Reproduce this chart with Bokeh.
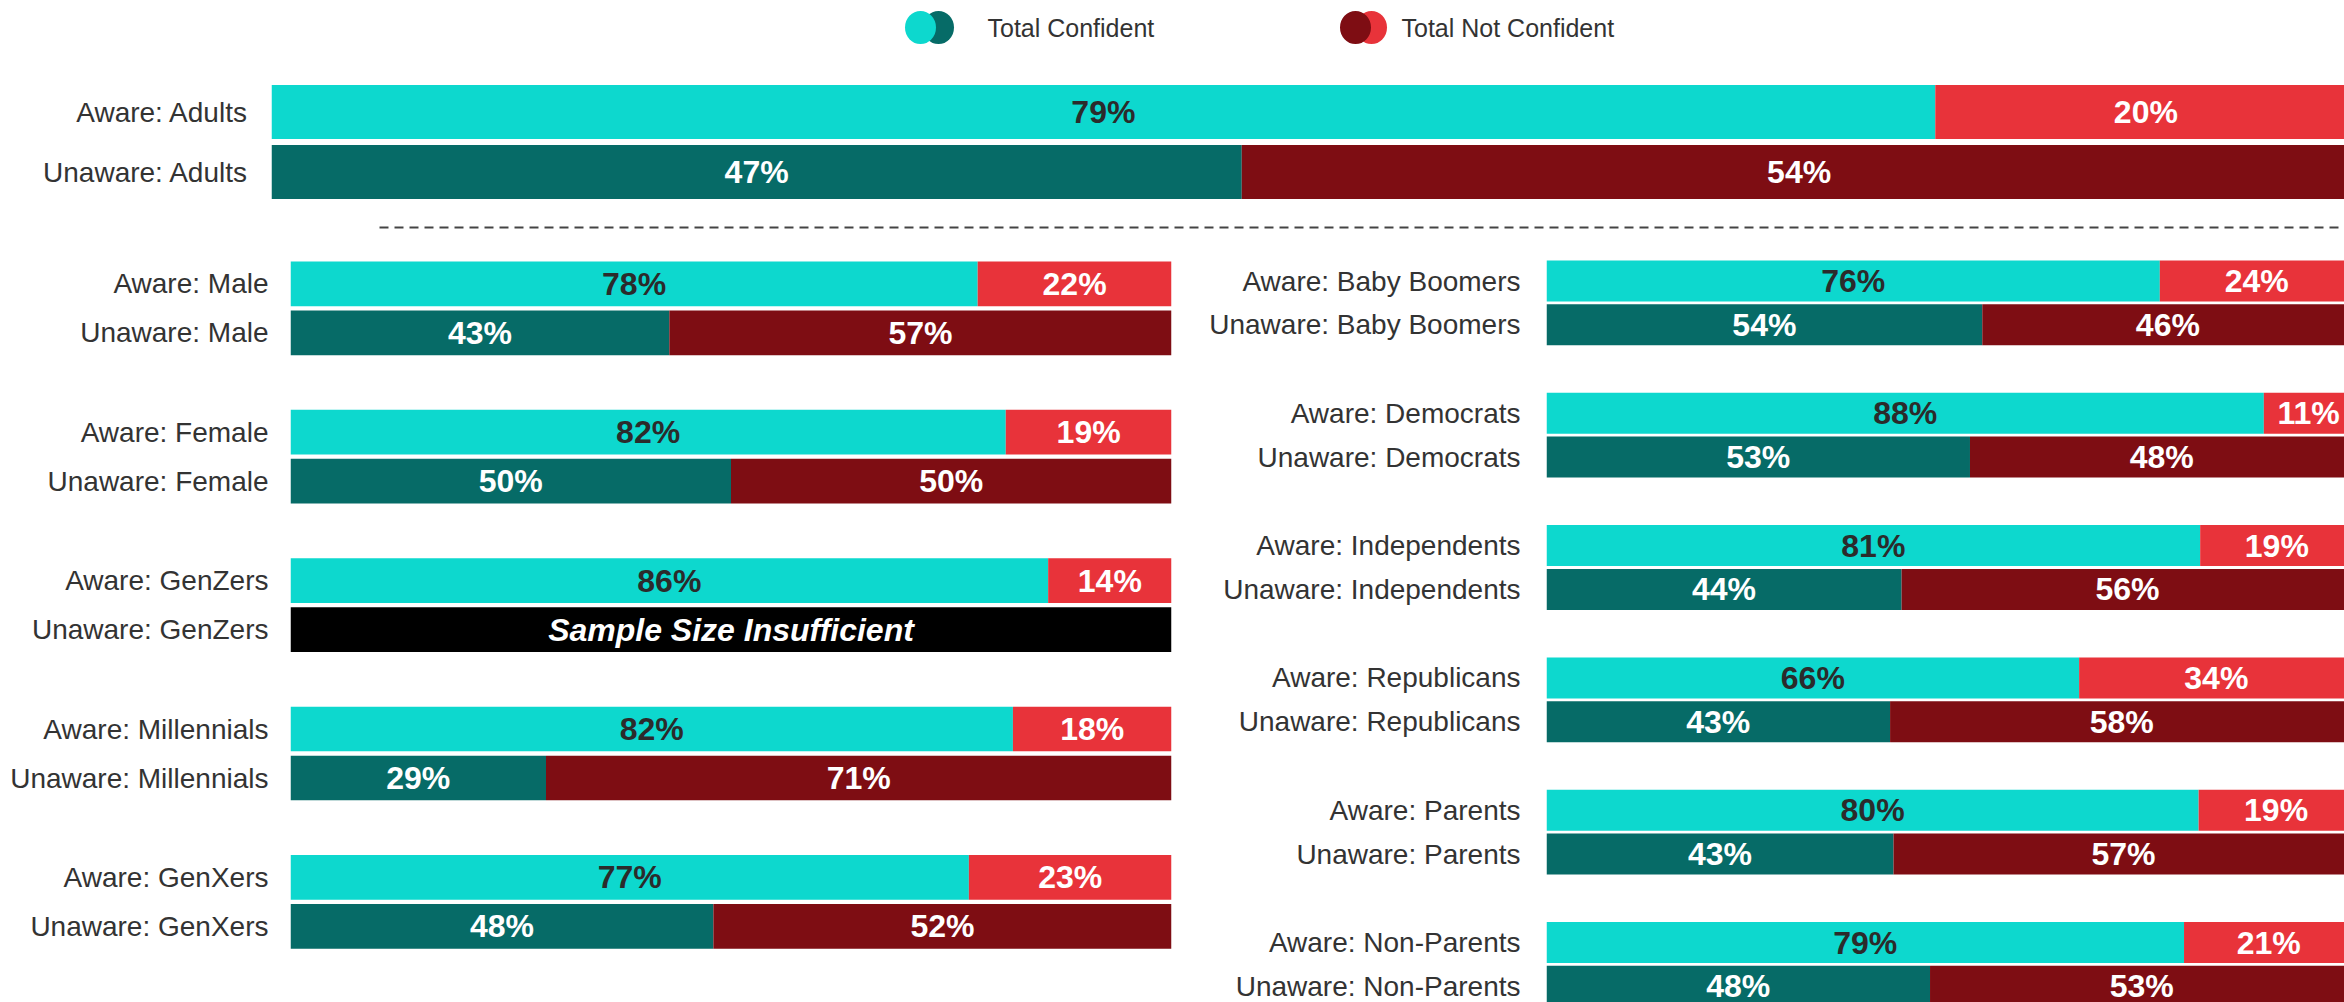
from bokeh.plotting import figure
from bokeh.models import Range1d, FixedTicker
from bokeh.layouts import column, row
from bokeh.embed import file_html
from bokeh.resources import INLINE
from bokeh.core.properties import value

# ---------------- data ----------------
top_groups = ["Adults"]
top_aware_conf = [79]
top_aware_not = [20]
top_unaware_conf = [47]
top_unaware_not = [54]

left_groups = ["Male", "Female", "GenZers", "Millennials", "GenXers"]
left_aware_conf = [78, 82, 86, 82, 77]
left_aware_not = [22, 19, 14, 18, 23]
left_unaware_conf = [43, 50, None, 29, 48]
left_unaware_not = [57, 50, None, 71, 52]

right_groups = ["Baby Boomers", "Democrats", "Independents", "Republicans", "Parents", "Non-Parents"]
right_aware_conf = [76, 88, 81, 66, 80, 79]
right_aware_not = [24, 11, 19, 34, 19, 21]
right_unaware_conf = [54, 53, 44, 43, 43, 48]
right_unaware_not = [46, 48, 56, 58, 57, 53]

legend_labels = ["Total Confident", "Total Not Confident"]
missing_text = "Sample Size Insufficient"

# ---------------- style ----------------
LIGHT_TEAL = "#0DD8CE"
DARK_TEAL = "#066B67"
RED = "#E8333A"
DARK_RED = "#7E0D13"
DARK_TXT = "#2B2B2B"
LABEL_COL = "#333333"
FONT = "Liberation Sans"
LABEL_SIZE = "28px"
PCT_SIZE = "32px"


def build_panel(groups, ac, an, uc, un, width, height, border_left, border_right,
                full_px, first_center, row_pitch, group_pitch, bar_h, standoff):
    frame_w = width - border_left - border_right
    p = figure(width=width, height=height, output_backend="svg", toolbar_location=None,
               x_range=Range1d(0, frame_w / full_px), y_range=Range1d(height, 0),
               x_axis_location=None, min_border_left=border_left,
               min_border_right=border_right, min_border_top=0, min_border_bottom=0,
               outline_line_color=None, background_fill_color="white", border_fill_color="white")
    p.xgrid.visible = False
    p.ygrid.visible = False

    ticks, tick_labels = [], {}
    bl, br, bc, by = [], [], [], []
    tx, ty, tt, tc = [], [], [], []
    mx, my = [], []
    for g, name in enumerate(groups):
        for k, (prefix, c, n, ccol, ncol, ctxt) in enumerate([
                ("Aware", ac[g], an[g], LIGHT_TEAL, RED, DARK_TXT),
                ("Unaware", uc[g], un[g], DARK_TEAL, DARK_RED, "white")]):
            y = round(first_center + g * group_pitch + k * row_pitch, 2)
            ticks.append(y)
            tick_labels[y] = f"{prefix}: {name}"
            if c is None:
                bl.append(0); br.append(1); bc.append("black"); by.append(y)
                mx.append(0.5); my.append(y)
                continue
            tot = c + n
            fc = c / tot
            bl += [0, fc]; br += [fc, 1]; bc += [ccol, ncol]; by += [y, y]
            tx += [fc / 2, (fc + 1) / 2]; ty += [y, y]
            tt += [f"{c}%", f"{n}%"]; tc += [ctxt, "white"]

    p.hbar(y=by, left=bl, right=br, height=bar_h, fill_color=bc, line_color=None)
    p.text(x=tx, y=ty, text=tt, text_color=tc, text_align="center", text_baseline="middle",
           text_font=value(FONT), text_font_style="bold", text_font_size=PCT_SIZE)
    if mx:
        p.text(x=mx, y=my, text=[missing_text] * len(mx), text_color="white",
               text_align="center", text_baseline="middle", text_font=value(FONT),
               text_font_style="bold italic", text_font_size=PCT_SIZE)

    ax = p.yaxis[0]
    ax.ticker = FixedTicker(ticks=ticks)
    ax.major_label_overrides = tick_labels
    ax.axis_line_color = None
    ax.major_tick_line_color = None
    ax.minor_tick_line_color = None
    ax.major_tick_out = 0
    ax.major_tick_in = 0
    ax.major_label_standoff = standoff
    ax.major_label_text_font = FONT
    ax.major_label_text_font_size = LABEL_SIZE
    ax.major_label_text_color = LABEL_COL
    return p


TOTAL_W = 2344
TOP_H = 248
PANEL_H = 754
LEFT_W = 1190

# top panel (with legend + dashed separator)
p_top = build_panel(top_groups, top_aware_conf, top_aware_not, top_unaware_conf, top_unaware_not,
                    TOTAL_W, TOP_H, 271, 0, 2085, 111.5, 60, 0, 54, 23)
p_top.extra_x_ranges = {"px": Range1d(271, TOTAL_W)}
# legend
p_top.ellipse(x=[938, 920], y=[27, 27], width=31, height=33, width_units="screen",
              height_units="screen", fill_color=[DARK_TEAL, LIGHT_TEAL], line_color=None,
              x_range_name="px")
p_top.ellipse(x=[1371, 1355], y=[27, 27], width=31, height=33, width_units="screen",
              height_units="screen", fill_color=[RED, DARK_RED], line_color=None,
              x_range_name="px")
p_top.text(x=[987, 1401], y=[27, 27], text=legend_labels, text_color=LABEL_COL,
           text_align="left", text_baseline="middle", text_font=value(FONT),
           text_font_size="25px", x_range_name="px")
p_top.segment(x0=[379], x1=[TOTAL_W], y0=[227], y1=[227], line_color="#444444",
              line_width=2, line_dash="9 6", x_range_name="px")

p_left = build_panel(left_groups, left_aware_conf, left_aware_not, left_unaware_conf,
                     left_unaware_not, LEFT_W, PANEL_H, 290, 19, 881, 35.3, 49, 148.4, 44.7, 22)
p_right = build_panel(right_groups, right_aware_conf, right_aware_not, right_unaware_conf,
                      right_unaware_not, TOTAL_W - LEFT_W, PANEL_H, 356, 0, 807,
                      32.5, 43.8, 132.3, 41, 26)

layout = column(p_top, row(p_left, p_right, spacing=0), spacing=0)
open("out.html", "w").write(file_html(layout, INLINE))
